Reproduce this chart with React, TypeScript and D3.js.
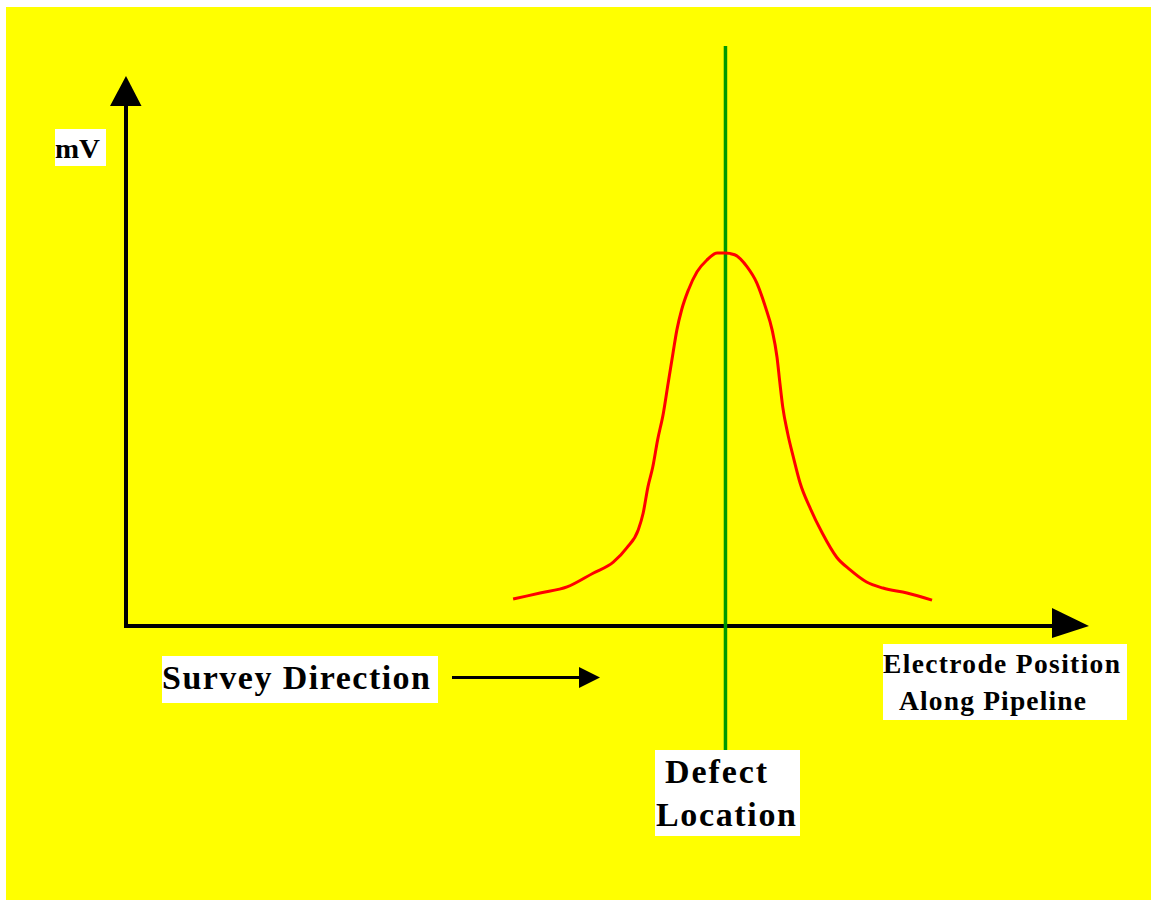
import React from "react";
import * as d3 from "d3";

// Signal profile (position along pipeline, mV)
const positionsLeft = [40.2, 43.0, 45.8, 48.5, 50.6, 52.0, 53.2, 53.7, 54.2, 54.7, 55.2, 55.8, 56.3, 56.8, 57.2, 57.7, 58.4, 59.3, 60.3, 61.4, 62.2];
const mvLeft = [4.9, 6.0, 7.1, 9.6, 11.6, 14.2, 17.5, 20.5, 25.3, 28.9, 33.8, 38.7, 44.2, 49.6, 53.8, 57.5, 61.1, 64.4, 66.5, 67.8, 67.8];
const positionsRight = [63.2, 64.5, 65.5, 66.4, 67.1, 67.6, 67.9, 68.2, 68.7, 69.3, 70.0, 71.0, 72.3, 73.8, 75.2, 76.9, 78.6, 81.1, 83.7];
const mvRight = [67.5, 65.3, 62.4, 58.0, 53.8, 48.9, 44.2, 39.8, 35.1, 30.7, 26.0, 21.6, 16.9, 12.5, 10.2, 8.0, 6.9, 6.0, 4.7];
const defectPosition = [62.25];
const yLabel = "mV";
const xLabelLines = ["Electrode Position", "Along Pipeline"];
const defectLines = ["Defect", "Location"];
const surveyLabel = "Survey Direction";

const W = 1151;
const H = 900;
const FONT = "'Liberation Serif', 'Times New Roman', serif";

export default function App() {
  const x = d3.scaleLinear().domain([0, 100]).range([126, 1089]);
  const y = d3.scaleLinear().domain([0, 100]).range([626, 76]);

  const pts: [number, number][] = [
    ...positionsLeft.map((p, i) => [p, mvLeft[i]] as [number, number]),
    ...positionsRight.map((p, i) => [p, mvRight[i]] as [number, number]),
  ];
  const line = d3
    .line<[number, number]>()
    .x((d) => x(d[0]))
    .y((d) => y(d[1]))
    .curve(d3.curveMonotoneX);

  const x0 = x(0);
  const y0 = y(0);
  const xEnd = x(100);
  const yEnd = y(100);
  const dx = x(defectPosition[0]);

  return (
    <svg
      width={W}
      height={H}
      style={{ position: "absolute", left: 0, top: 0, display: "block" }}
      fontFamily={FONT}
    >
      <rect x={0} y={0} width={W} height={H} fill="#ffffff" />
      <rect x={6} y={7} width={W - 6} height={H - 7} fill="#ffff00" />

      {/* Y axis */}
      <line x1={x0} y1={y0 + 2} x2={x0} y2={yEnd + 26} stroke="#000" strokeWidth={4} />
      <path d={`M${x0},${yEnd} L${x0 + 15.5},${yEnd + 30} L${x0 - 16},${yEnd + 30} Z`} fill="#000" />

      {/* X axis */}
      <line x1={x0 - 2} y1={y0} x2={xEnd - 34} y2={y0} stroke="#000" strokeWidth={4} />
      <path d={`M${xEnd},${y0} L${xEnd - 37},${y0 - 18} L${xEnd - 37},${y0 + 12} Z`} fill="#000" />

      {/* Defect line */}
      <line x1={dx} y1={46} x2={dx} y2={750} stroke="#009900" strokeWidth={3.5} />

      {/* Curve */}
      <path d={line(pts) || ""} fill="none" stroke="#ff0000" strokeWidth={3} />

      {/* mV label */}
      <rect x={55} y={129} width={51} height={37} fill="#ffffff" />
      <text x={55} y={158} fontSize={28} fontWeight="bold" fill="#000" textLength={45} lengthAdjust="spacingAndGlyphs">{yLabel}</text>

      {/* Survey Direction */}
      <rect x={162} y={656} width={276} height={47} fill="#ffffff" />
      <text x={162} y={689} fontSize={34} fontWeight="bold" fill="#000" textLength={268} lengthAdjust="spacing">
        {surveyLabel}
      </text>
      <line x1={452} y1={677.5} x2={585} y2={677.5} stroke="#000" strokeWidth={3} />
      <path d={`M600,677.5 L579,667 L579,688 Z`} fill="#000" />

      {/* Electrode Position label */}
      <rect x={883} y={644} width={244} height={76} fill="#ffffff" />
      <text x={883} y={673} fontSize={27.5} fontWeight="bold" fill="#000" textLength={237} lengthAdjust="spacing">
        {xLabelLines[0]}
      </text>
      <text x={899} y={710} fontSize={27.5} fontWeight="bold" fill="#000" textLength={187} lengthAdjust="spacing">
        {xLabelLines[1]}
      </text>

      {/* Defect Location label */}
      <rect x={655} y={750} width={145} height={86} fill="#ffffff" />
      <text x={665} y={783} fontSize={34} fontWeight="bold" fill="#000" textLength={102} lengthAdjust="spacing">
        {defectLines[0]}
      </text>
      <text x={656} y={826} fontSize={34} fontWeight="bold" fill="#000" textLength={140} lengthAdjust="spacing">
        {defectLines[1]}
      </text>
    </svg>
  );
}
